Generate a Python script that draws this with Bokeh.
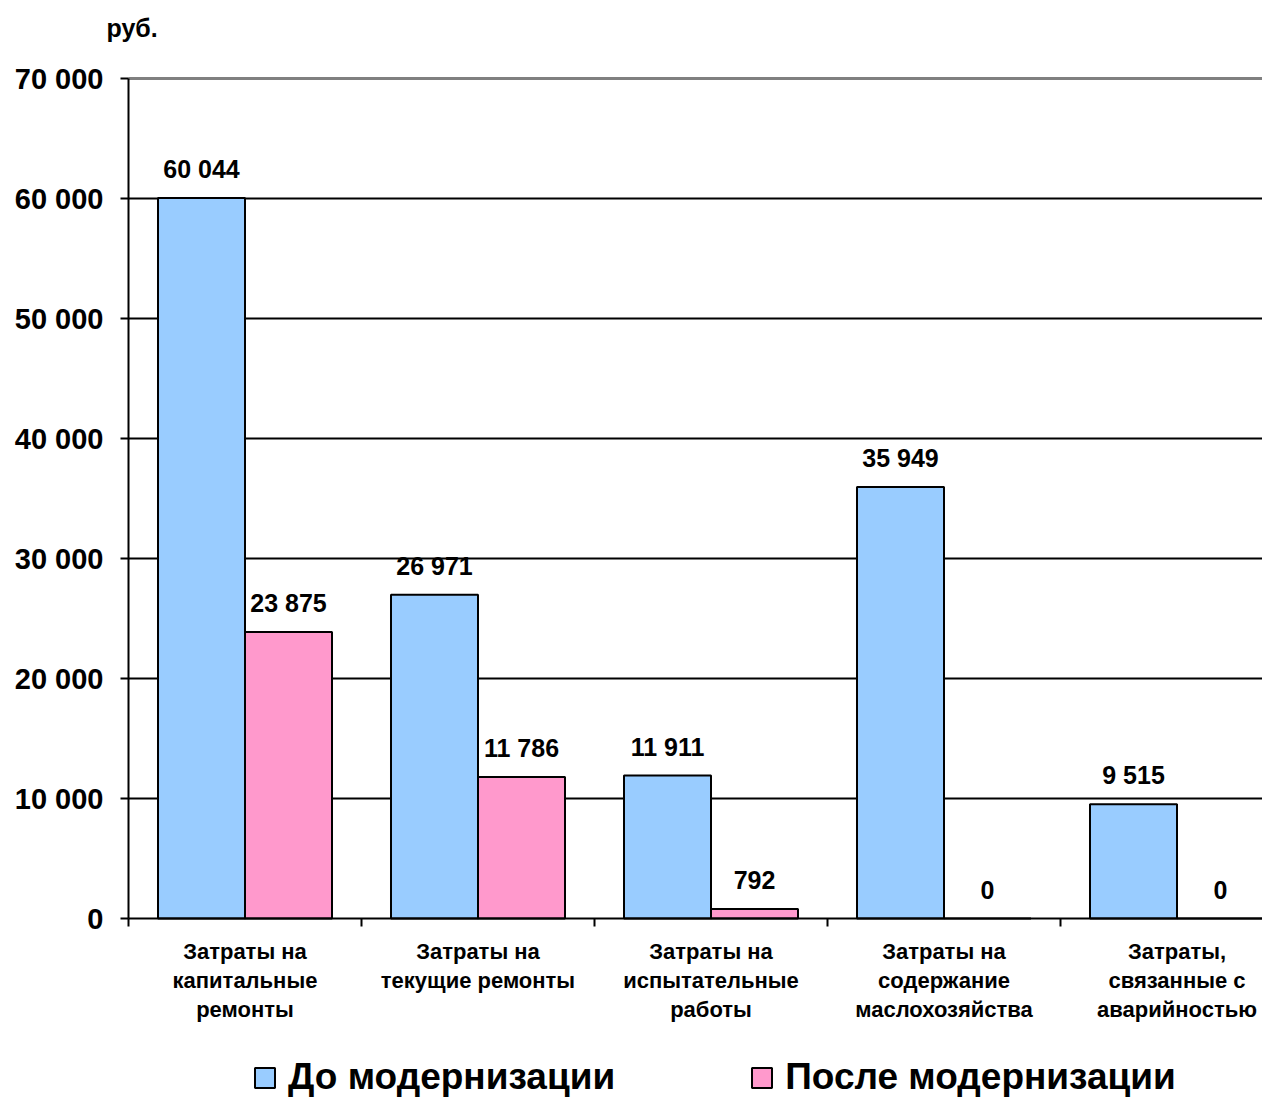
from bokeh.plotting import figure
from bokeh.models import (Range1d, FixedTicker, Label, Legend, LegendItem,
                          ColumnDataSource)
from bokeh.core.properties import value
from bokeh.embed import file_html
from bokeh.resources import INLINE

categories = [
    "Затраты на\nкапитальные\nремонты",
    "Затраты на\nтекущие ремонты",
    "Затраты на\nиспытательные\nработы",
    "Затраты на\nсодержание\nмаслохозяйства",
    "Затраты,\nсвязанные с\nаварийностью",
]
before = [60044, 26971, 11911, 35949, 9515]
after = [23875, 11786, 792, 0, 0]
series_names = ["До модернизации", "После модернизации"]
y_ticks = [0, 10000, 20000, 30000, 40000, 50000, 60000, 70000]
unit_label = "руб."

FONT = "Liberation Sans"
BLUE = "#99CCFF"
PINK = "#FF99CC"

W, H = 1262, 1098
CAT_PX = 233          # pixel width of one category
X0_PX = 128           # pixel position of the value axis
Y0_PX = 918           # pixel position of the zero line
PX_PER_UNIT_Y = 12 / 1000

n = len(categories)
bar_w = 0.3734
idx = list(range(n))
x_before = [i + 0.5 - bar_w / 2 for i in idx]
x_after = [i + 0.5 + bar_w / 2 for i in idx]
x_min = -X0_PX / CAT_PX
x_max = (W - X0_PX) / CAT_PX
y_max_v = max(y_ticks)
y_top = y_max_v + (Y0_PX - y_max_v * PX_PER_UNIT_Y) / PX_PER_UNIT_Y
y_bot = -(H - Y0_PX) / PX_PER_UNIT_Y

def fmt(v):
    return f"{v:,}".replace(",", " ")

p = figure(width=W, height=H, output_backend="svg", toolbar_location=None,
           x_range=Range1d(x_min, x_max), y_range=Range1d(y_bot, y_top),
           frame_width=W, frame_height=H, min_border=0)
p.outline_line_color = None
p.background_fill_color = "white"
p.border_fill_color = "white"
p.grid.visible = False

src_b = ColumnDataSource(dict(x=x_before, top=before, lbl=[fmt(v) for v in before]))
src_a = ColumnDataSource(dict(x=x_after, top=after, lbl=[fmt(v) for v in after]))

# horizontal grid lines, limited to the plot area right of the value axis
grid_vals = y_ticks[1:-1]
p.segment(x0=[0] * len(grid_vals), x1=[x_max] * len(grid_vals), y0=grid_vals, y1=grid_vals,
          line_color="black", line_width=2)
p.segment(x0=[0], x1=[x_max], y0=[y_max_v], y1=[y_max_v],
          line_color="#808080", line_width=3)

r_b = p.vbar(x="x", top="top", width=bar_w, bottom=0, source=src_b,
             fill_color=BLUE, line_color="black", line_width=2)
r_a = p.vbar(x="x", top="top", width=bar_w, bottom=0, source=src_a,
             fill_color=PINK, line_color="black", line_width=2)

for src in (src_b, src_a):
    p.text(x="x", y="top", text="lbl", source=src, text_align="center",
           text_baseline="alphabetic", y_offset=-29,
           text_font=value(FONT), text_font_style="bold", text_font_size="25px",
           text_color="black")

# y axis
ya = p.yaxis[0]
ya.fixed_location = 0
ya.bounds = (0, y_max_v)
ya.ticker = FixedTicker(ticks=y_ticks)
ya.major_label_overrides = {v: fmt(v) for v in y_ticks}
ya.major_label_text_font = FONT
ya.major_label_text_font_style = "bold"
ya.major_label_text_font_size = "29px"
ya.major_label_text_color = "black"
ya.major_tick_out = 8
ya.major_tick_in = 0
ya.major_tick_line_width = 2
ya.major_tick_line_color = "black"
ya.minor_tick_line_color = None
ya.axis_line_width = 2
ya.axis_line_color = "black"
ya.major_label_standoff = 17

# x axis
xa = p.xaxis[0]
xa.fixed_location = 0
xa.bounds = (0, x_max)
xa.ticker = FixedTicker(ticks=[i + 0.5 for i in idx], minor_ticks=[float(i) for i in range(n + 1)])
xa.major_label_overrides = {i + 0.5: c for i, c in zip(idx, categories)}
xa.major_label_text_font = FONT
xa.major_label_text_font_style = "bold"
xa.major_label_text_font_size = "22px"
xa.major_label_text_color = "black"
xa.major_label_text_line_height = 1.16
xa.major_tick_out = 0
xa.major_tick_in = 0
xa.minor_tick_out = 8
xa.minor_tick_in = 0
xa.minor_tick_line_width = 2
xa.minor_tick_line_color = "black"
xa.axis_line_width = 2
xa.axis_line_color = "black"
xa.major_label_standoff = 12

p.add_layout(Label(x=-22 / CAT_PX, y=y_max_v + 51 / PX_PER_UNIT_Y, text=unit_label,
                   text_font=FONT, text_font_style="bold", text_font_size="25px",
                   text_baseline="alphabetic", text_color="black"))

legend = Legend(items=[LegendItem(label=series_names[0], renderers=[r_b]),
                       LegendItem(label=series_names[1], renderers=[r_a])],
                orientation="horizontal", location=(252, 0),
                label_text_font=FONT, label_text_font_style="bold",
                label_text_font_size="37px", label_text_color="black",
                glyph_width=25, glyph_height=25, label_standoff=11,
                spacing=134, padding=0, margin=0, label_height=36,
                border_line_color=None, background_fill_alpha=0)
p.add_layout(legend, "center")

open("out.html", "w").write(file_html(p, INLINE))
